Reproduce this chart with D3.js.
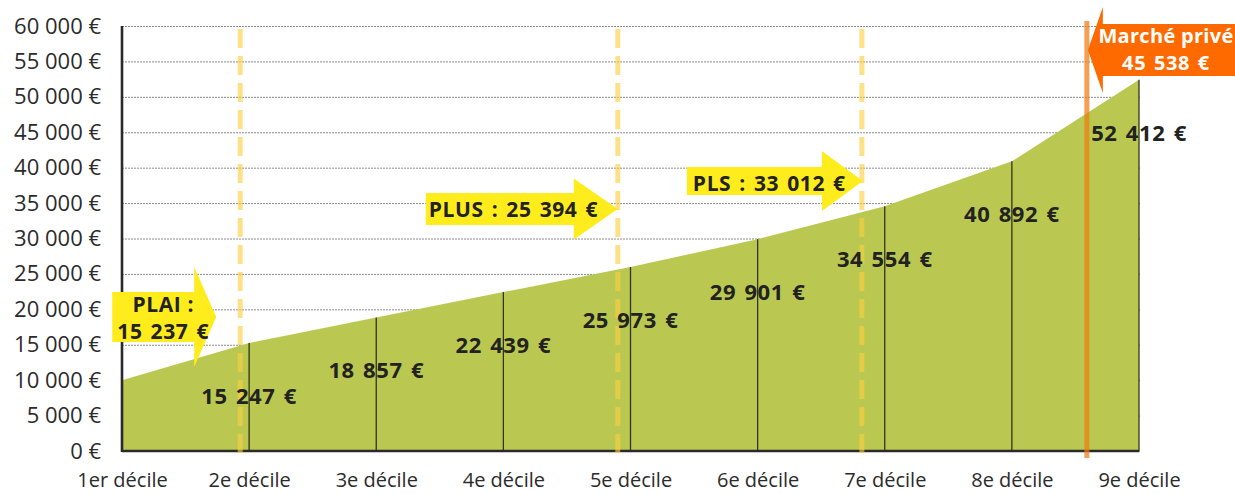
<!DOCTYPE html>
<html><head><meta charset="utf-8">
<script src="https://cdn.jsdelivr.net/npm/d3@7"></script>
<style>
body{margin:0;background:#fff}
text{font-family:"Open Sans",sans-serif}
</style>
</head><body>
<svg id="c" width="1235" height="494"></svg>
<script>
// ---- data ----
const categories = ["1er décile","2e décile","3e décile","4e décile","5e décile","6e décile","7e décile","8e décile","9e décile"];
const values = [10000, 15247, 18857, 22439, 25973, 29901, 34554, 40892, 52412];
const yTicks = [0,5000,10000,15000,20000,25000,30000,35000,40000,45000,50000,55000,60000];
const thresholdNames = ["PLAI", "PLUS", "PLS", "Marché privé"];
const thresholdValues = [15237, 25394, 33012, 45538];
// where each threshold line sits on the decile axis (1 = 1er décile, 9 = 9e décile)
const thresholdPositions = [1.93, 4.90, 6.82, 8.59];

// ---- setup ----
const W = 1235, H = 494;
const margin = {left:122, right:96, top:26, bottom:43};
const x0 = margin.left, x1 = W - margin.right, yTop = margin.top, yBot = H - margin.bottom;
const svg = d3.select("#c");
const loc = d3.formatLocale({decimal:",", thousands:"\u00a0", grouping:[3], currency:["","\u00a0€"]});
const fmtNum = loc.format(",d");
const euro = v => fmtNum(v) + "\u00a0€";

const x = d3.scalePoint().domain(categories).range([x0, x1]);
const xPos = d3.scaleLinear().domain([1, categories.length]).range([x0, x1]);
const y = d3.scaleLinear().domain([0, 60000]).range([yBot, yTop]);

// grid
const grid = svg.append("g").attr("transform", `translate(${x0},0)`)
  .call(d3.axisLeft(y).tickValues(yTicks).tickSize(-(x1 - x0 + 1)).tickFormat(""));
grid.select(".domain").remove();
grid.selectAll(".tick line").attr("stroke", "#8a8a8a").attr("stroke-width", 1).attr("stroke-dasharray", "2 1");

// y axis labels
const ya = svg.append("g").attr("transform", `translate(${x0},0)`)
  .call(d3.axisLeft(y).tickValues(yTicks).tickSize(0).tickPadding(21).tickFormat(euro));
ya.select(".domain").remove();
ya.selectAll("text").attr("font-family", "'Liberation Sans', Arial, sans-serif").attr("font-size", 22).attr("fill", "#2b2b2b");

// area
const area = d3.area().x((d, i) => x(categories[i])).y0(y(0)).y1(d => y(d));
svg.append("path").datum(values).attr("d", area).attr("fill", "#bac851");

// decile lines
svg.append("g").selectAll("line").data(values.slice(1)).join("line")
  .attr("x1", (d, i) => x(categories[i + 1])).attr("x2", (d, i) => x(categories[i + 1]))
  .attr("y1", y(0)).attr("y2", d => y(d))
  .attr("stroke", "#33331a").attr("stroke-width", 1.3);

// axis lines
svg.append("line").attr("x1", x0).attr("x2", x0).attr("y1", yTop).attr("y2", yBot + 1)
  .attr("stroke", "#2a2a2a").attr("stroke-width", 2.6);
svg.append("line").attr("x1", x0).attr("x2", x1).attr("y1", yBot).attr("y2", yBot)
  .attr("stroke", "#2a2a2a").attr("stroke-width", 2.4);

// threshold lines
thresholdPositions.forEach((p, i) => {
  const last = i === thresholdPositions.length - 1;
  svg.append("line").attr("x1", xPos(p)).attr("x2", xPos(p))
    .attr("y1", last ? 21 : 29).attr("y2", yBot + 7)
    .attr("stroke", last ? "#f07a14" : "#fccf3f")
    .attr("stroke-opacity", last ? 0.72 : 0.62)
    .attr("stroke-width", 5)
    .attr("stroke-dasharray", last ? null : "19 8");
});

// x axis labels
const xa = svg.append("g").attr("transform", `translate(0,${yBot})`)
  .call(d3.axisBottom(x).tickSize(0).tickPadding(22));
xa.select(".domain").remove();
xa.selectAll("text").attr("font-family", "'Open Sans', sans-serif").attr("font-size", 20).attr("fill", "#2b2b2b");

// value labels
svg.append("g").selectAll("text").data(values.slice(1)).join("text")
  .attr("x", (d, i) => x(categories[i + 1]))
  .attr("y", d => y(d) + 61)
  .attr("text-anchor", "middle")
  .attr("font-size", 22).attr("font-weight", 700).attr("fill", "#222")
  .attr("letter-spacing", 0.6).attr("word-spacing", 2)
  .text(d => euro(d));

// arrows
function arrowPath(tipX, tipY, dir, bodyLen, bodyH, headLen, headH) {
  const p = d3.path();
  const s = dir; // +1 points right, -1 points left
  const hb = tipX - s * headLen;       // head base x
  const tail = hb - s * bodyLen;
  p.moveTo(tail, tipY - bodyH / 2);
  p.lineTo(hb, tipY - bodyH / 2);
  p.lineTo(hb, tipY - headH / 2);
  p.lineTo(tipX, tipY);
  p.lineTo(hb, tipY + headH / 2);
  p.lineTo(hb, tipY + bodyH / 2);
  p.lineTo(tail, tipY + bodyH / 2);
  p.closePath();
  return p.toString();
}
const yellow = "#ffec1c", orange = "#ff6a00";
const lx = thresholdPositions.map(p => xPos(p));

// PLAI
{
  const tipX = lx[0] - 24, tipY = 317;
  svg.append("path").attr("d", arrowPath(tipX, tipY, 1, 82, 50, 22, 100)).attr("fill", yellow);
  const cx = tipX - 22 - 82 / 2 + 10;
  svg.append("text").attr("x", cx).attr("y", 312).attr("text-anchor", "middle")
    .attr("font-size", 21).attr("font-weight", 700).attr("fill", "#222").attr("letter-spacing", 0.6)
    .text(thresholdNames[0] + "\u00a0:");
  svg.append("text").attr("x", cx).attr("y", 339).attr("text-anchor", "middle")
    .attr("font-size", 21).attr("font-weight", 700).attr("fill", "#222").attr("letter-spacing", 0.6).attr("word-spacing", 2)
    .text(euro(thresholdValues[0]));
}
// PLUS
{
  const tipX = lx[1], tipY = 209;
  svg.append("path").attr("d", arrowPath(tipX, tipY, 1, 148, 32, 44, 61)).attr("fill", yellow);
  svg.append("text").attr("x", tipX - 44 - 148 + 3).attr("y", 217)
    .attr("font-size", 21).attr("font-weight", 700).attr("fill", "#222").attr("letter-spacing", 0.6).attr("word-spacing", 2)
    .text(thresholdNames[1] + "\u00a0: " + euro(thresholdValues[1]));
}
// PLS
{
  const tipX = lx[2] + 1, tipY = 181;
  svg.append("path").attr("d", arrowPath(tipX, tipY, 1, 135, 28, 41, 60)).attr("fill", yellow);
  svg.append("text").attr("x", tipX - 41 - 135 + 6).attr("y", 191)
    .attr("font-size", 21).attr("font-weight", 700).attr("fill", "#222").attr("letter-spacing", 0.6).attr("word-spacing", 2)
    .text(thresholdNames[2] + "\u00a0: " + euro(thresholdValues[2]));
}
// Marché privé
{
  const tipX = lx[3] + 1, tipY = 50;
  svg.append("path").attr("d", arrowPath(tipX, tipY, -1, 140, 52, 15, 86)).attr("fill", orange);
  const cx = 1166;
  svg.append("text").attr("x", cx).attr("y", 43).attr("text-anchor", "middle")
    .attr("font-size", 20).attr("font-weight", 700).attr("fill", "#fff").attr("letter-spacing", 0.3)
    .text(thresholdNames[3]);
  svg.append("text").attr("x", cx).attr("y", 70).attr("text-anchor", "middle")
    .attr("font-size", 20).attr("font-weight", 700).attr("fill", "#fff").attr("letter-spacing", 0.6).attr("word-spacing", 2)
    .text(euro(thresholdValues[3]));
}
</script>
</body></html>
